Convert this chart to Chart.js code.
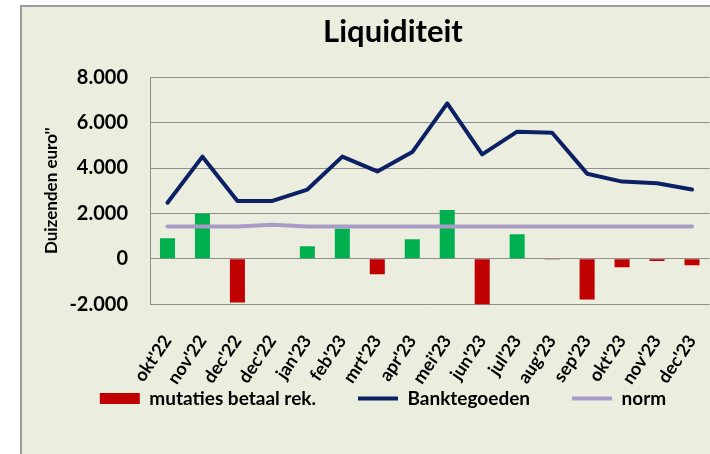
<!DOCTYPE html>
<html>
<head>
<meta charset="utf-8">
<script src="https://cdn.jsdelivr.net/npm/chart.js@4.4.1/dist/chart.umd.min.js"></script>
<style>
  html, body { margin: 0; padding: 0; overflow: hidden; background: #ffffff; }
  #box {
    position: absolute; left: 20px; top: 5px; width: 800px; height: 520px;
    border-left: 2px solid #9e9e9e; border-top: 2px solid #9e9e9e;
    background: #ebeedf;
  }
  #chart { position: absolute; left: 0; top: 0; }
</style>
</head>
<body>
<div id="box"><canvas id="chart" width="742" height="463"></canvas></div>
<script>
// data (duizenden euro)
const labels = ["okt'22", "nov'22", "dec'22", "dec'22", "jan'23", "feb'23", "mrt'23", "apr'23",
                "mei'23", "jun'23", "jul'23", "aug'23", "sep'23", "okt'23", "nov'23", "dec'23"];
const mutaties = [900, 2000, -1930, 0, 550, 1330, -680, 860, 2150, -2100, 1080, -30, -1790, -370, -100, -280];
const banktegoeden = [2470, 4500, 2550, 2550, 3050, 4500, 3850, 4700, 6850, 4600, 5600, 5550, 3750, 3400, 3330, 3050];
const norm = [1420, 1420, 1420, 1500, 1420, 1420, 1420, 1420, 1420, 1420, 1420, 1420, 1420, 1420, 1420, 1420];
const yTicks = [-2000, 0, 2000, 4000, 6000, 8000];

const GREEN = '#00b050';
const RED = '#c00000';
const NAVY = '#0c2163';
const LILAC = '#a99bc6';
const GRID = '#8f8f8f';

Chart.defaults.font.family = 'Lato';
Chart.defaults.color = '#000';

function dutch(v) {
    return String(v).replace(/\B(?=(\d{3})+(?!\d))/g, '.');
}

// the legend sits higher and a bit more left than Chart.js puts it
const legendShift = {
    id: 'legendShift',
    afterLayout(chart) {
        const lg = chart.legend;
        lg.left -= 10;
        lg.right -= 10;
        lg.top -= 52;
        lg.bottom -= 52;
    }
};

const ctx = document.getElementById('chart').getContext('2d');
new Chart(ctx, {
    data: {
        labels: labels,
        datasets: [
            {
                type: 'bar',
                label: 'mutaties betaal rek.',
                data: mutaties,
                backgroundColor: c => (c.parsed && c.parsed.y < 0) ? RED : GREEN,
                barPercentage: 0.43,
                categoryPercentage: 1,
                order: 3
            },
            {
                type: 'line',
                label: 'Banktegoeden',
                data: banktegoeden,
                borderColor: NAVY,
                borderWidth: 4,
                pointRadius: 0,
                borderJoinStyle: 'round',
                borderCapStyle: 'round',
                order: 1
            },
            {
                type: 'line',
                label: 'norm',
                data: norm,
                borderColor: LILAC,
                borderWidth: 4,
                pointRadius: 0,
                borderJoinStyle: 'round',
                borderCapStyle: 'round',
                order: 2
            }
        ]
    },
    options: {
        responsive: false,
        animation: false,
        layout: { padding: 0 },
        plugins: {
            tooltip: { enabled: false },
            title: {
                display: true,
                text: 'Liquiditeit',
                font: { size: 31, weight: 'bold' },
                color: '#000',
                padding: { top: 6, bottom: 27 }
            },
            legend: {
                position: 'bottom',
                labels: {
                    usePointStyle: true,
                    pointStyleWidth: 40,
                    boxHeight: 11,
                    padding: 42,
                    font: { size: 19, weight: 'bold' },
                    generateLabels: function(chart) {
                        const colors = [RED, NAVY, LILAC];
                        return chart.data.datasets.map((ds, i) => ({
                            text: ds.label,
                            fillStyle: colors[i],
                            strokeStyle: colors[i],
                            lineWidth: i === 0 ? 0 : 4,
                            pointStyle: i === 0 ? 'rect' : 'line',
                            hidden: false,
                            datasetIndex: i
                        }));
                    }
                }
            }
        },
        scales: {
            x: {
                grid: { display: false },
                border: { display: false },
                ticks: {
                    autoSkip: false,
                    minRotation: 56,
                    maxRotation: 56,
                    padding: 19,
                    font: { size: 18, weight: 'bold' }
                },
                afterFit: s => { s.height = 94.8; }
            },
            y: {
                min: -2000,
                max: 8000,
                afterBuildTicks: s => { s.ticks = yTicks.map(v => ({ value: v })); },
                grid: { color: GRID, lineWidth: 1, drawTicks: false },
                border: { display: true, color: GRID, width: 1 },
                ticks: {
                    padding: 22,
                    font: { size: 20, weight: 'bold' },
                    callback: v => dutch(v)
                },
                title: {
                    display: true,
                    text: "Duizenden euro''",
                    font: { size: 17, weight: 'bold' },
                    padding: { top: 19, bottom: 0 }
                },
                afterFit: s => { s.width = 128; }
            },
            yR: {
                position: 'right',
                display: true,
                grid: { display: false },
                border: { display: false },
                ticks: { display: false },
                afterFit: s => { s.width = 54.5; }
            }
        }
    },
    plugins: [legendShift]
});
</script>
</body>
</html>
